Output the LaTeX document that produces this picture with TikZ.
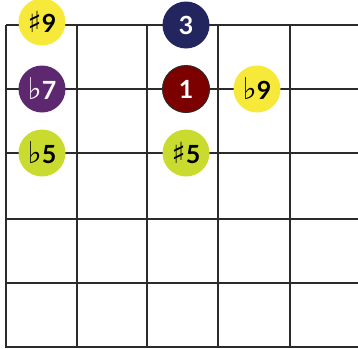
\documentclass[tikz,border=0pt]{standalone}
\usepackage{fontspec}
\setmainfont{Lato}
\newfontfamily\accfont{DejaVu Sans}
\usetikzlibrary{positioning}
\definecolor{noteyellow}{HTML}{F7E93A}
\definecolor{notelime}{HTML}{C9DB2F}
\definecolor{notepurple}{HTML}{5E2870}
\definecolor{notenavy}{HTML}{23255F}
\definecolor{notered}{HTML}{7D0000}
\definecolor{gridline}{HTML}{2B2B2B}
\newcommand{\shp}{{\accfont\bfseries\fontsize{29}{29}\selectfont ♯}}
\newcommand{\flt}{{\accfont\fontsize{30}{30}\selectfont ♭}}

\begin{document}
\begin{tikzpicture}[x=1pt, y=-1pt,
  note/.style={circle, minimum size=47pt, inner sep=0pt, font=\fontsize{25}{25}\selectfont\bfseries},
  light/.style={note, fill=#1, text=black},
  dark/.style={note, fill=#1, text=white},
  fret/.style={draw=gridline, line width=1.6pt}
]
\useasboundingbox (0,0) rectangle (358,348);
% 网格:横线为弦,竖线为品丝
\foreach \y in {25,89,153,219,283,347} \draw[fret] (6,\y) -- (358,\y);
\foreach \x in {6,77,147,218,290} \draw[fret] (\x,25) -- (\x,348);
% 音符圆点
\node[light=noteyellow] (sharpnine) at (42,22) {\shp9};
\node[dark=notepurple] (flatseven) at (42,89) {\flt7};
\node[light=notelime] (flatfive) at (42,153) {\flt5};
\node[dark=notenavy] (third) at (186,25) {3};
\node[dark=notered, draw=gridline, line width=1pt] (root) at (186,89) {1};
\node[light=noteyellow] (flatnine) at (257,89) {\flt9};
\node[light=notelime] (sharpfive) at (186,153) {\shp5};
\end{tikzpicture}
\end{document}
